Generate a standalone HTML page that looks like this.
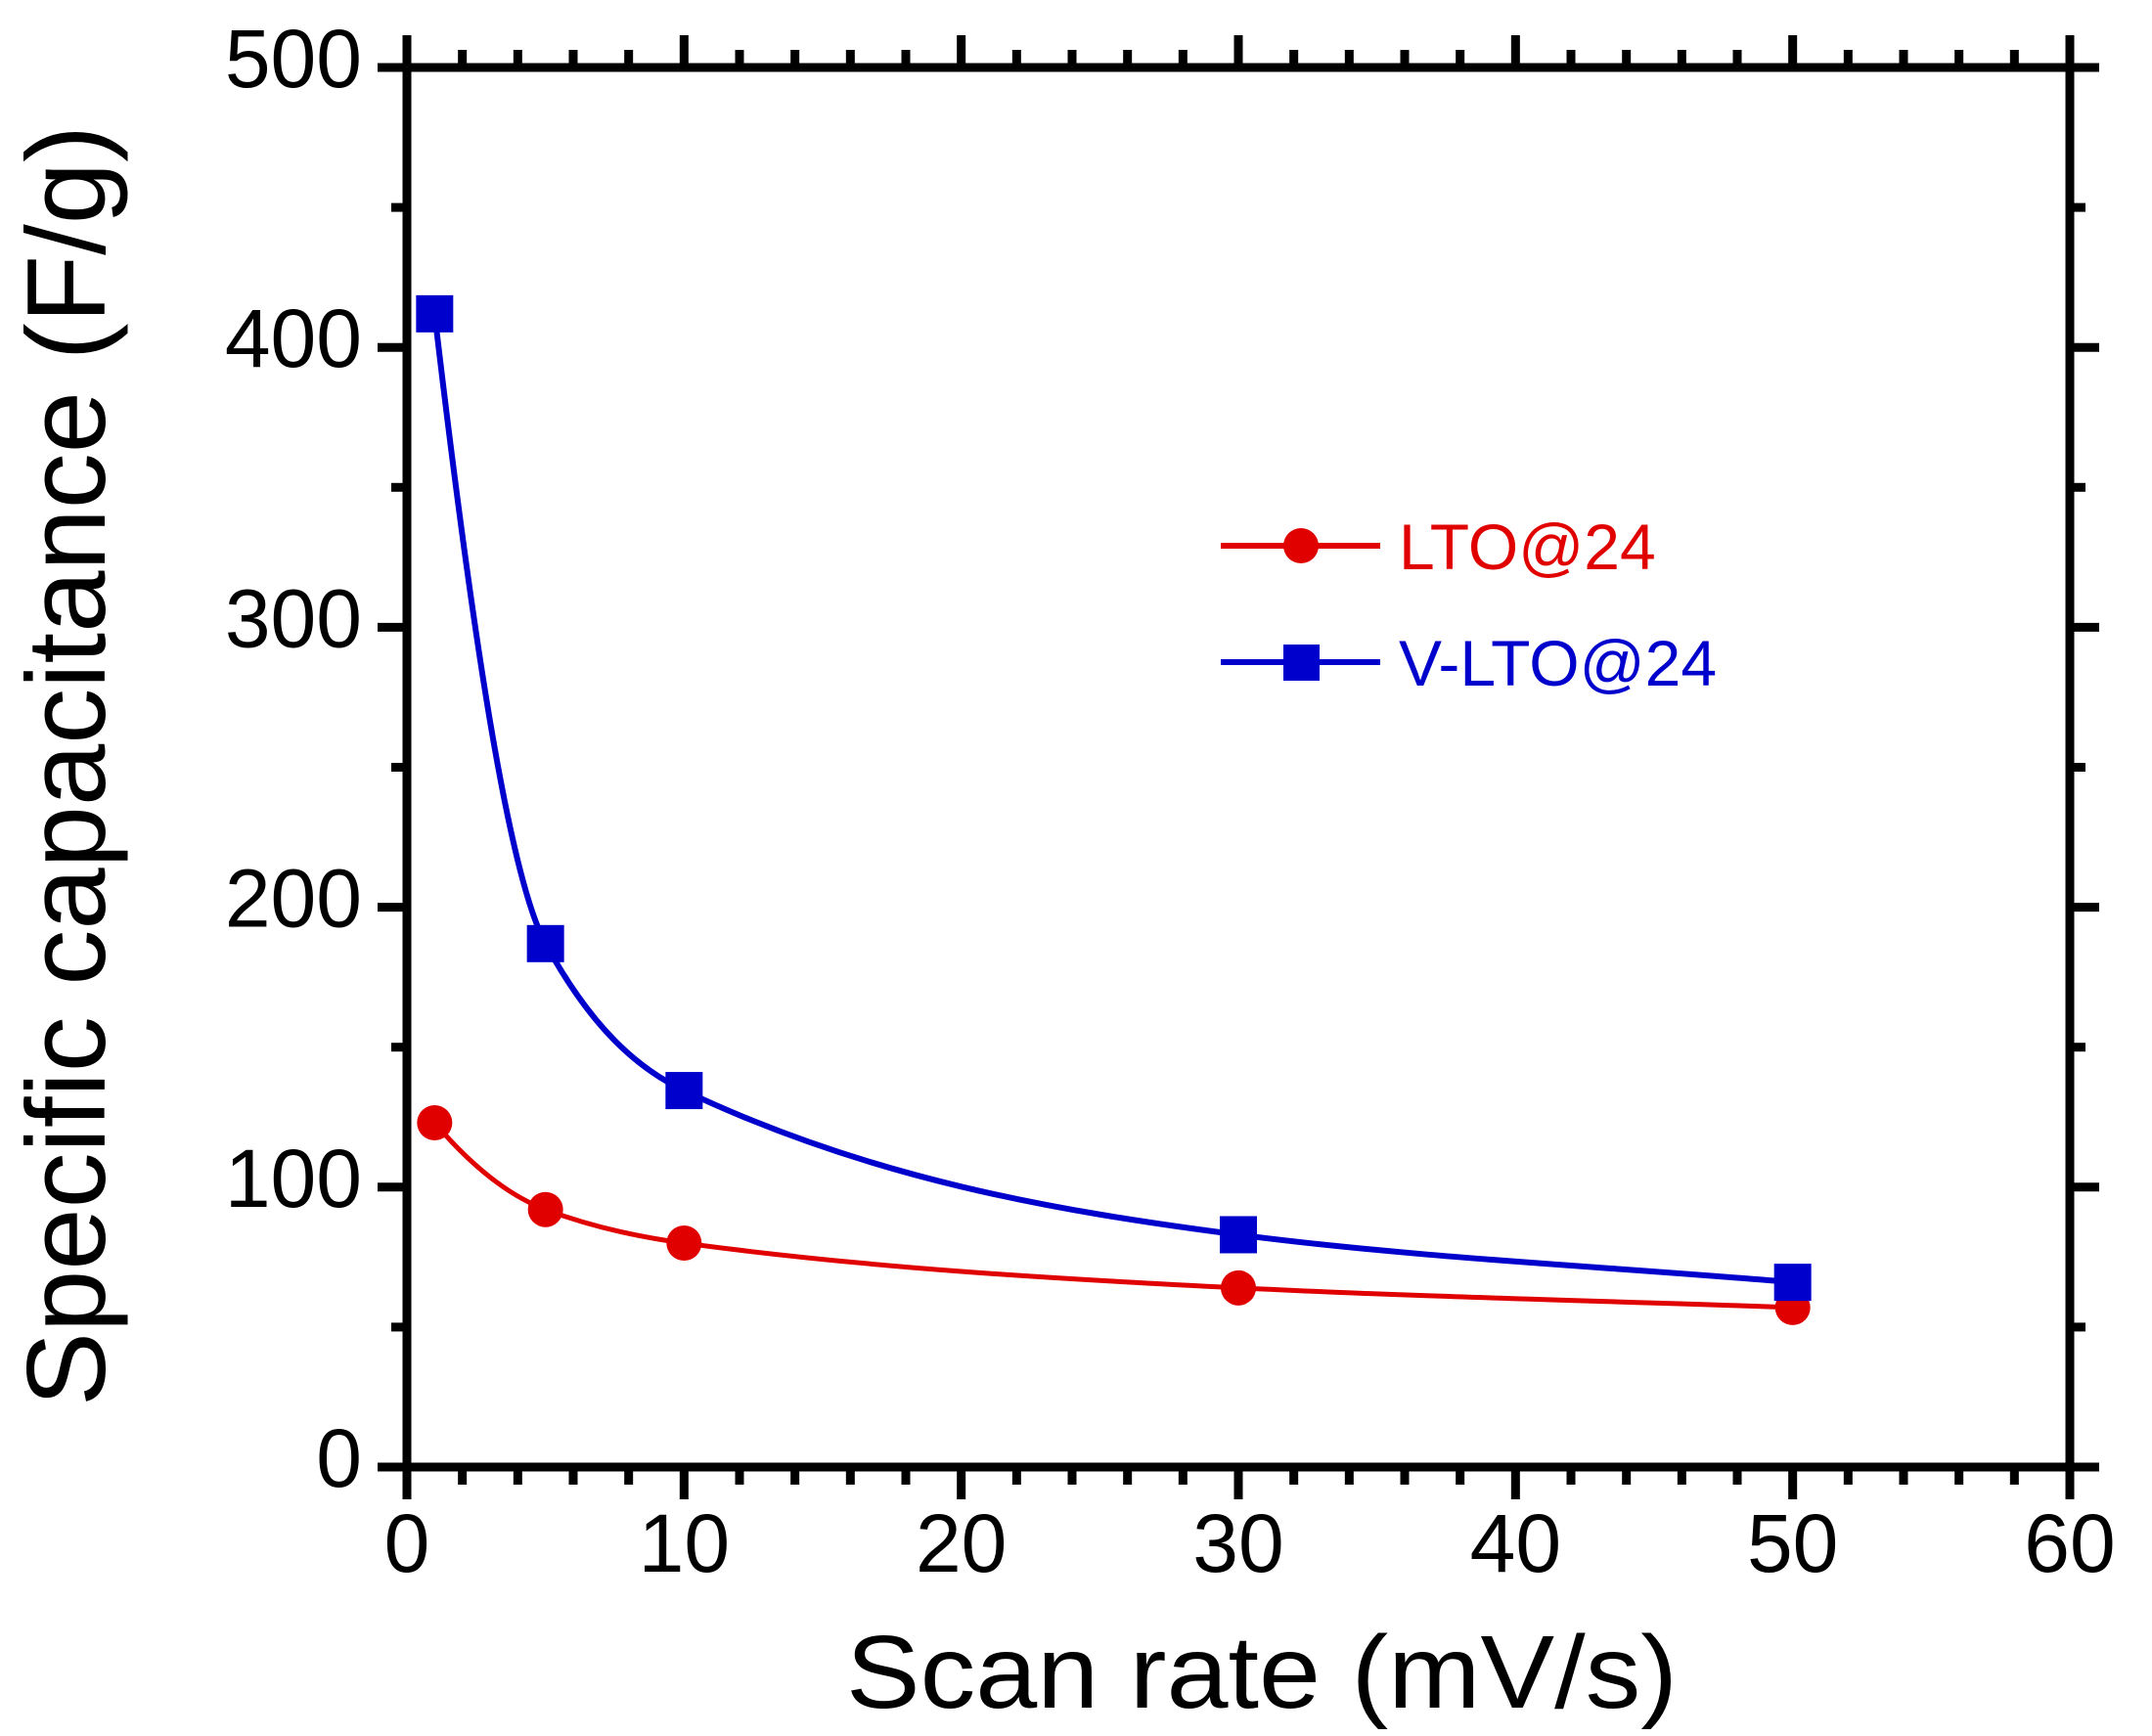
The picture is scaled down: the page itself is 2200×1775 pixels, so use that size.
<!DOCTYPE html>
<html><head><meta charset="utf-8"><style>
html,body{margin:0;padding:0;background:#fff;}
svg{display:block;font-family:"Liberation Sans",Arial,sans-serif;}
</style></head><body>
<svg id="chart" width="2200" height="1775" viewBox="0 0 2200 1775" xmlns="http://www.w3.org/2000/svg">
<g id="series"></g>
<g id="frame"></g>
<text x="1290" y="1746" font-size="106" text-anchor="middle" textLength="850" lengthAdjust="spacingAndGlyphs">Scan rate (mV/s)</text>
<text transform="translate(107,783) rotate(-90)" font-size="114" text-anchor="middle" textLength="1310" lengthAdjust="spacingAndGlyphs">Specific capacitance (F/g)</text>
<g>
  <line x1="1248" y1="558" x2="1411" y2="558" stroke="#e00000" stroke-width="6"/>
  <circle cx="1330" cy="558" r="18" fill="#e00000"/>
  <text x="1430" y="582" font-size="66" fill="#e00000">LTO@24</text>
  <line x1="1248" y1="677" x2="1411" y2="677" stroke="#0000cc" stroke-width="6"/>
  <rect x="1312" y="659" width="37" height="37" fill="#0000cc"/>
  <text x="1430" y="701" font-size="66" fill="#0000cc">V-LTO@24</text>
</g>
</svg>
<script>
const xs = [1, 5, 10, 30, 50];
const ltoValues = [123, 92, 80, 64, 57];
const vltoValues = [412, 187, 134.5, 83, 66];
const xTicks = [0, 10, 20, 30, 40, 50, 60];
const yTicks = [0, 100, 200, 300, 400, 500];

const NS = "http://www.w3.org/2000/svg";
const L = 416, R = 2116, T = 69, B = 1500;
const X = v => L + (v - 0) / 60 * (R - L);
const Y = v => B - (v - 0) / 500 * (B - T);
function mk(tag, attrs, parent) {
  const e = document.createElementNS(NS, tag);
  for (const k in attrs) e.setAttribute(k, attrs[k]);
  parent.appendChild(e);
  return e;
}
const frame = document.getElementById('frame');
const series = document.getElementById('series');

const box = mk('rect', {x: L, y: T, width: R - L, height: B - T, fill: 'none', stroke: '#000', 'stroke-width': 9}, frame);



for (let v = 0; v <= 60; v += 2) {
  const major = v % 10 === 0;
  const len = major ? 33 : 18;
  const x = X(v);
  const tb = mk('line', {x1: x, y1: B, x2: x, y2: B + len, stroke: '#000', 'stroke-width': 9}, frame);
  
  
  const tt = mk('line', {x1: x, y1: T, x2: x, y2: T - len, stroke: '#000', 'stroke-width': 9}, frame);
  
  
}
xTicks.forEach(v => {
  const t = mk('text', {x: X(v), y: 1607, 'font-size': 84, 'text-anchor': 'middle'}, frame);
  t.textContent = v;
  
  
});
for (let v = 0; v <= 500; v += 50) {
  const major = v % 100 === 0;
  const len = major ? 30 : 16;
  const y = Y(v);
  const tl = mk('line', {x1: L, y1: y, x2: L - len, y2: y, stroke: '#000', 'stroke-width': 9}, frame);
  
  
  const tr = mk('line', {x1: R, y1: y, x2: R + len, y2: y, stroke: '#000', 'stroke-width': 9}, frame);
  
  
}
yTicks.forEach(v => {
  const t = mk('text', {x: 370, y: Y(v) + 20, 'font-size': 84, 'text-anchor': 'end'}, frame);
  t.textContent = v;
  
  
});

function smoothPath(px, py) {
  const P = px.map((x, i) => [X(x), Y(py[i])]);
  const n = P.length;
  const d = [], m = new Array(n);
  for (let i = 0; i < n - 1; i++) d.push((P[i+1][1] - P[i][1]) / (P[i+1][0] - P[i][0]));
  m[0] = d[0] * 1.5; m[n-1] = d[n-2];
  for (let i = 1; i < n - 1; i++) {
    if (d[i-1] * d[i] <= 0) m[i] = 0;
    else {
      const h0 = P[i][0] - P[i-1][0], h1 = P[i+1][0] - P[i][0];
      const w1 = 2*h1 + h0, w2 = h1 + 2*h0;
      m[i] = (w1 + w2) / (w1 / d[i-1] + w2 / d[i]);
    }
  }
  let s = 'M' + P[0][0] + ',' + P[0][1];
  for (let i = 0; i < n - 1; i++) {
    const h = (P[i+1][0] - P[i][0]) / 3;
    s += ' C' + (P[i][0] + h) + ',' + (P[i][1] + m[i]*h) + ' ' + (P[i+1][0] - h) + ',' + (P[i+1][1] - m[i+1]*h) + ' ' + P[i+1][0] + ',' + P[i+1][1];
  }
  return s;
}
const lineR = mk('path', {d: smoothPath(xs, ltoValues), fill: 'none', stroke: '#e00000', 'stroke-width': 5}, series);


const lineB = mk('path', {d: smoothPath(xs, vltoValues), fill: 'none', stroke: '#0000cc', 'stroke-width': 6}, series);


xs.forEach((x, i) => {
  const c = mk('circle', {cx: X(x), cy: Y(ltoValues[i]), r: 18, fill: '#e00000'}, series);
  
  
  const s = mk('rect', {x: X(x) - 19, y: Y(vltoValues[i]) - 19, width: 38, height: 38, fill: '#0000cc'}, series);
  
  
});
</script>
</body></html>
